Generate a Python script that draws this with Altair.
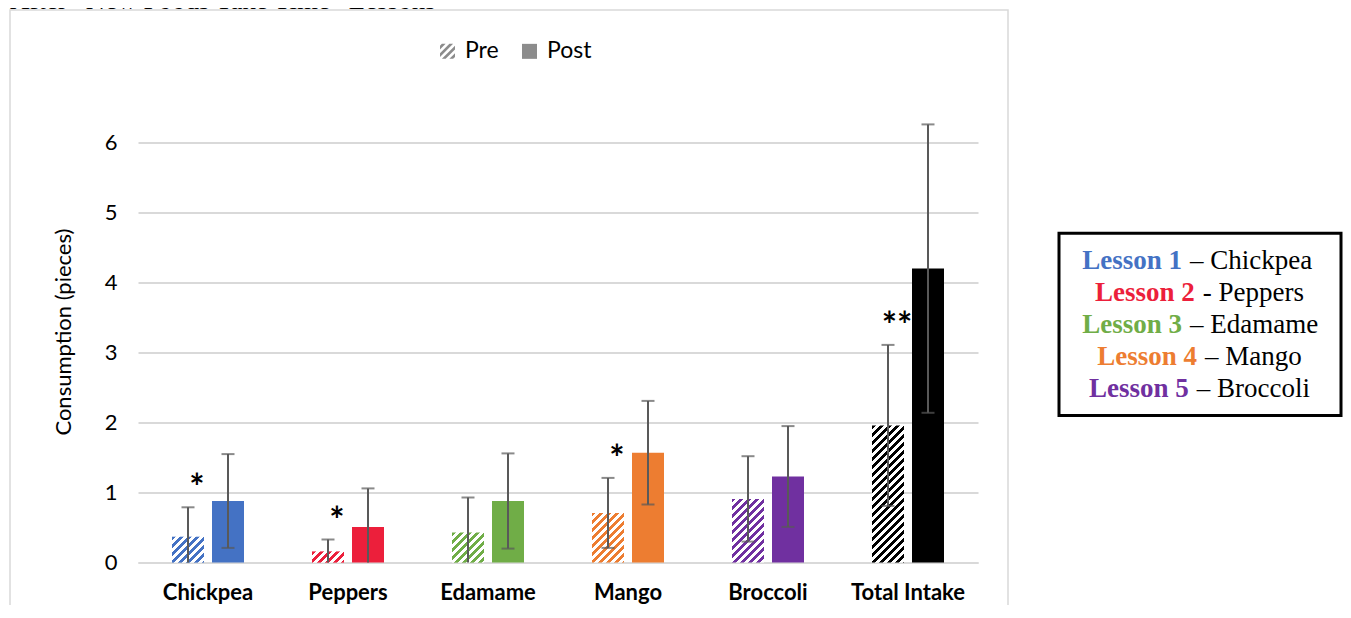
import math
import altair as alt
import pandas as pd

# ---------------- data ----------------
categories = ["Chickpea", "Peppers", "Edamame", "Mango", "Broccoli", "Total Intake"]
pre_mean = [0.37, 0.16, 0.43, 0.71, 0.91, 1.96]
pre_sd = [0.42, 0.17, 0.50, 0.50, 0.61, 1.15]
post_mean = [0.88, 0.51, 0.88, 1.57, 1.23, 4.20]
post_sd = [0.67, 0.55, 0.68, 0.74, 0.72, 2.06]
sig_marks = ["*", "*", "", "*", "", "**"]
series = ["Pre", "Post"]
bar_colors = ["#4472C4", "#EC1F3B", "#70AD47", "#ED7D31", "#7030A0", "#000000"]
lesson_names = ["Lesson 1", "Lesson 2", "Lesson 3", "Lesson 4", "Lesson 5"]
lesson_foods = ["\u2013 Chickpea", "- Peppers", "\u2013 Edamame", "\u2013 Mango", "\u2013 Broccoli"]
title_text = "After \u201cNew Foods Take Time\u201d Lessons"
y_ticks = [0, 1, 2, 3, 4, 5, 6]

rows = []
for i, c in enumerate(categories):
    rows.append(dict(category=c, series="Pre", mean=pre_mean[i], sd=pre_sd[i], sig=sig_marks[i]))
    rows.append(dict(category=c, series="Post", mean=post_mean[i], sd=post_sd[i], sig=""))
df = pd.DataFrame(rows)

# ---------------- layout / style ----------------
W, H = 840, 462
YMAX = 6.6
PX = H / YMAX
BAR_W = 32
PAD = {"left": 130, "top": 92.6, "right": 365, "bottom": 42.4}
FONT = "Lato"
SERIF = "Liberation Serif"
GRID = "#d9d9d9"
ERR = "#595959"


def hatch(color, w, h, period=8.0, frac=0.5):
    L = w + h
    k = L / (w * w + h * h)
    stops = []
    i = 0
    while True:
        a = i * period / L
        if a >= 1:
            break
        b = min((i + frac) * period / L, 1.0)
        c = min((i + 1) * period / L, 1.0)
        stops += [
            alt.GradientStop(offset=a, color=color),
            alt.GradientStop(offset=b, color=color),
            alt.GradientStop(offset=b, color="white"),
            alt.GradientStop(offset=c, color="white"),
        ]
        i += 1
    return alt.LinearGradient(gradient="linear", stops=stops, x1=0, y1=0, x2=k * w, y2=k * h)


def clip(poly, f):
    out = []
    n = len(poly)
    for i in range(n):
        p, q = poly[i], poly[(i + 1) % n]
        fp, fq = f(p), f(q)
        if fp >= 0:
            out.append(p)
        if (fp >= 0) != (fq >= 0):
            t = fp / (fp - fq)
            out.append((p[0] + t * (q[0] - p[0]), p[1] + t * (q[1] - p[1])))
    return out


def stripe_path(period=1.0, width=0.5):
    square = [(-1, -1), (1, -1), (1, 1), (-1, 1)]
    parts = []
    c1 = -2.0 + 0.25
    while c1 < 2.0:
        c2 = c1 + width
        poly = clip(square, lambda p, c=c1: p[0] + p[1] - c)
        poly = clip(poly, lambda p, c=c2: c - (p[0] + p[1])) if poly else []
        if len(poly) >= 3:
            parts.append("M" + "L".join(f"{x:.3f},{y:.3f}" for x, y in poly) + "Z")
        c1 += period
    return "".join(parts)


x_axis = alt.Axis(title=None, labelAngle=0, labelFont=FONT, labelFontSize=22, labelFontWeight="bold",
                  labelColor="black", labelPadding=20, ticks=False, tickSize=0,
                  domainColor=GRID, domainWidth=2, grid=False)
y_axis = alt.Axis(title="Consumption (pieces)", values=y_ticks, labelFont=FONT, labelFontSize=22,
                  labelColor="black", labelPadding=21, ticks=False, tickSize=0, domain=False,
                  grid=True, gridColor=GRID, gridWidth=2, titleFont=FONT, titleFontSize=22,
                  titleFontWeight="normal", titleColor="black", titlePadding=29)

X = alt.X("category:N", sort=categories,
          scale=alt.Scale(domain=categories, paddingInner=0, paddingOuter=0), axis=x_axis)
XO = alt.XOffset("series:N", sort=series,
                 scale=alt.Scale(domain=series, paddingInner=0.2, paddingOuter=0.85))
YS = alt.Scale(domain=[0, YMAX], nice=False, zero=True)


def Yf(field):
    return alt.Y(f"{field}:Q", scale=YS, axis=y_axis)


base = alt.Chart(df)
layers = []

# outer chart frame
one = alt.Chart(pd.DataFrame({"k": [0]}))
layers.append(one.mark_rect(fillOpacity=0, stroke=GRID, strokeWidth=1.5).encode(
    x=alt.value(-128), x2=alt.value(870), y=alt.value(-90.6), y2=alt.value(560)))

# post bars (solid)
layers.append(base.transform_filter("datum.series == 'Post'").mark_bar().encode(
    x=X, xOffset=XO, y=Yf("mean"),
    color=alt.Color("category:N", scale=alt.Scale(domain=categories, range=bar_colors), legend=None)))

# pre bars (hatched)
for i, c in enumerate(categories):
    g = hatch(bar_colors[i], BAR_W, pre_mean[i] * PX)
    layers.append(base.transform_filter(f"datum.series == 'Pre' && datum.category == '{c}'")
                  .mark_bar(fill=g).encode(x=X, xOffset=XO, y=Yf("mean")))

err = base.transform_calculate(lo="max(datum.mean - datum.sd, 0)", hi="datum.mean + datum.sd",
                               raw_lo="datum.mean - datum.sd")
layers.append(err.mark_rule(color=ERR, strokeWidth=2).encode(
    x=X, xOffset=XO, y=Yf("lo"), y2="hi:Q"))
layers.append(err.mark_tick(color=ERR, thickness=2, size=13).encode(x=X, xOffset=XO, y=Yf("hi")))
layers.append(err.transform_filter("datum.raw_lo > 0").mark_tick(color=ERR, thickness=2, size=13)
              .encode(x=X, xOffset=XO, y=Yf("lo")))

# significance stars
layers.append(err.transform_filter("datum.sig != ''").mark_text(
    font=FONT, fontSize=36, fontWeight="bold", color="black", dx=9, dy=-18, baseline="middle")
    .encode(x=X, xOffset=XO, y=Yf("hi"), text="sig:N"))

# Pre / Post legend (empty layer that only carries the legend)
leg = dict(orient="none", legendX=298, legendY=-61, direction="horizontal",
           title=None, symbolSize=225, symbolStrokeWidth=0, labelFont=FONT,
           labelFontSize=23, labelColor="black", labelOffset=6,
           columnPadding=19, padding=0, symbolOpacity=1)
layers.append(base.transform_filter("false").mark_point(filled=True, opacity=1).encode(
    fill=alt.Fill("series:N", scale=alt.Scale(domain=series, range=["#8c8c8c", "#8c8c8c"]),
                  legend=alt.Legend(**leg)),
    shape=alt.Shape("series:N", scale=alt.Scale(domain=series, range=[stripe_path(), "square"]),
                    legend=alt.Legend(**leg))))

# lesson key box
layers.append(one.mark_rect(fillOpacity=0, stroke="black", strokeWidth=3).encode(
    x=alt.value(921), x2=alt.value(1203), y=alt.value(132.7), y2=alt.value(314.9)))
split_x = [1044, 1056.7, 1044, 1059, 1050.7]
base_y = [168.7, 200.7, 232.7, 264.7, 296.7]
for i in range(5):
    layers.append(one.mark_text(font=SERIF, fontSize=27, fontWeight="bold", color=bar_colors[i],
                                align="right", baseline="alphabetic")
                  .encode(x=alt.value(split_x[i]), y=alt.value(base_y[i]), text=alt.value(lesson_names[i])))
    layers.append(one.mark_text(font=SERIF, fontSize=27, color="black", align="left",
                                baseline="alphabetic", dx=8)
                  .encode(x=alt.value(split_x[i]), y=alt.value(base_y[i]), text=alt.value(lesson_foods[i])))

# title (cut off at top, as in the source)
layers.append(one.mark_text(font=SERIF, fontSize=27, color="black", align="left", baseline="alphabetic")
              .encode(x=alt.value(-128), y=alt.value(-91.2), text=alt.value(title_text)))

chart = alt.layer(*layers).properties(
    width=W, height=H, autosize=alt.AutoSizeParams(type="none"), padding=PAD,
    background="white").configure_view(stroke=None)

chart.save("out.html", embed_options={"renderer": "svg", "actions": False})
